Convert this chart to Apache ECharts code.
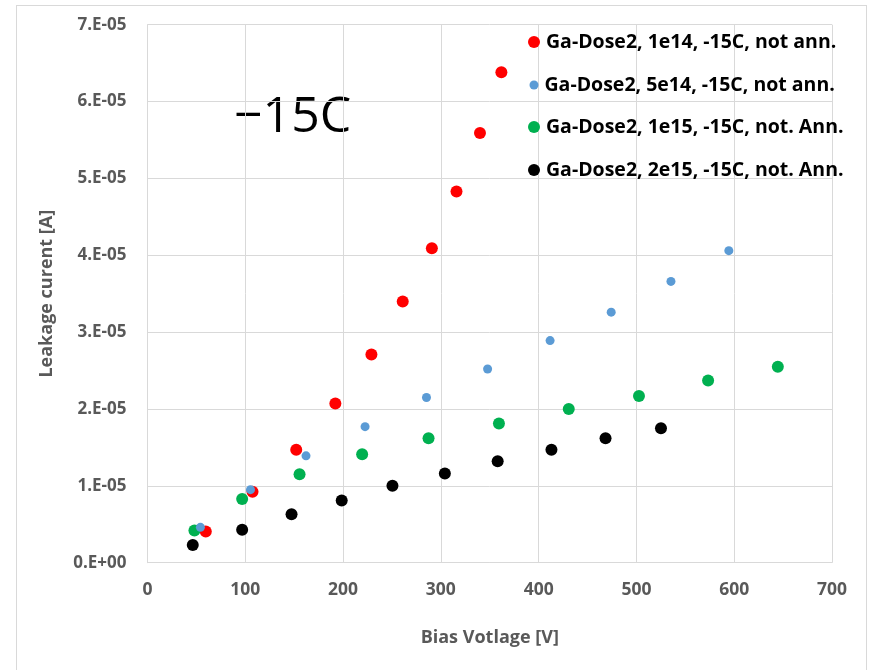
<!DOCTYPE html>
<html>
<head>
<meta charset="utf-8">
<script src="https://cdn.jsdelivr.net/npm/echarts@6/dist/echarts.min.js"></script>
<style>
html,body{margin:0;padding:0;background:#fff;}
#frame{position:absolute;left:16px;top:5px;width:851px;height:700px;border:1px solid #d9d9d9;box-sizing:border-box;}
#chart{position:absolute;left:0;top:0;width:869px;height:670px;}
</style>
</head>
<body>
<div id="frame"></div>
<div id="chart"></div>
<script>
// ---- data ----
const seriesNames = [
  'Ga-Dose2, 1e14, -15C, not ann.',
  'Ga-Dose2, 5e14, -15C, not ann.',
  'Ga-Dose2, 1e15, -15C, not. Ann.',
  'Ga-Dose2, 2e15, -15C, not. Ann.'
];
const redX = [59.6, 107.4, 152.1, 192.1, 229.0, 261.0, 290.8, 316.0, 340.0, 361.9];
const redY = [4.07e-6, 9.22e-6, 1.47e-5, 2.07e-5, 2.71e-5, 3.40e-5, 4.09e-5, 4.83e-5, 5.59e-5, 6.38e-5];
const blueX = [54.1, 105.3, 162.1, 222.5, 285.3, 347.8, 411.7, 474.2, 535.3, 594.5];
const blueY = [4.6e-6, 9.5e-6, 1.39e-5, 1.77e-5, 2.15e-5, 2.52e-5, 2.89e-5, 3.26e-5, 3.66e-5, 4.06e-5];
const greenX = [48.0, 96.8, 155.5, 219.5, 287.4, 359.4, 430.8, 502.6, 573.3, 644.6];
const greenY = [4.2e-6, 8.3e-6, 1.15e-5, 1.41e-5, 1.62e-5, 1.81e-5, 2.00e-5, 2.17e-5, 2.37e-5, 2.55e-5];
const blackX = [46.3, 96.8, 147.3, 198.6, 250.5, 304.1, 358.1, 413.1, 468.4, 525.1];
const blackY = [2.3e-6, 4.3e-6, 6.3e-6, 8.1e-6, 1.00e-5, 1.16e-5, 1.32e-5, 1.47e-5, 1.62e-5, 1.75e-5];
const xTicks = [0, 100, 200, 300, 400, 500, 600, 700];
const yTicks = [0, 1e-5, 2e-5, 3e-5, 4e-5, 5e-5, 6e-5, 7e-5];
const annotation = '\u221215C';
const xTitle = 'Bias Votlage [V]';
const yTitle = 'Leakage curent [A]';

// ---- styles ----
const colors = ['#ff0000', '#5b9bd5', '#00b050', '#000000'];
const sizes = [12, 9, 12, 12];
const FONT = '"Open Sans", sans-serif';

function zip(xs, ys) { return xs.map((x, i) => [x, ys[i]]); }
const dataSets = [zip(redX, redY), zip(blueX, blueY), zip(greenX, greenY), zip(blackX, blackY)];

function fmtY(v) {
  if (v === 0) return '0.E+00';
  const e = Math.floor(Math.log10(Math.abs(v)) + 1e-9);
  const m = Math.round(v / Math.pow(10, e));
  const sign = e < 0 ? '-' : '+';
  const ae = Math.abs(e);
  return m + '.E' + sign + (ae < 10 ? '0' : '') + ae;
}

const chart = echarts.init(document.getElementById('chart'), null, {renderer: 'canvas'});
const legendTops = [32, 75, 117, 160];
const option = {
  backgroundColor: 'transparent',
  animation: false,
  grid: {left: 147.5, right: 37, top: 24.7, bottom: 107.3, containLabel: false},
  xAxis: {
    type: 'value', min: 0, max: 700, interval: 100,
    name: xTitle, nameLocation: 'middle', nameGap: 66,
    nameTextStyle: {fontFamily: FONT, fontWeight: 'bold', fontSize: 18, color: '#595959'},
    axisLine: {show: true, lineStyle: {color: '#d9d9d9', width: 1}},
    axisTick: {show: false},
    axisLabel: {fontFamily: FONT, fontWeight: 'bold', fontSize: 17.5, color: '#595959', margin: 18},
    splitLine: {show: true, lineStyle: {color: '#d9d9d9', width: 1}}
  },
  yAxis: {
    type: 'value', min: 0, max: 7e-5, interval: 1e-5,
    name: yTitle, nameLocation: 'middle', nameGap: 92, nameRotate: 90,
    nameTextStyle: {fontFamily: FONT, fontWeight: 'bold', fontSize: 18, color: '#595959'},
    axisLine: {show: true, lineStyle: {color: '#d9d9d9', width: 1}},
    axisTick: {show: false},
    axisLabel: {fontFamily: FONT, fontWeight: 'bold', fontSize: 17, color: '#595959', margin: 21, formatter: fmtY},
    splitLine: {show: true, lineStyle: {color: '#d9d9d9', width: 1}}
  },
  legend: seriesNames.map((n, i) => ({
    data: [n], orient: 'vertical', left: 527, top: legendTops[i],
    itemWidth: sizes[i], itemHeight: sizes[i], icon: 'circle', itemGap: 0,
    padding: [0, 0, 0, 13 - sizes[i] / 2 - 6],
    textStyle: {fontFamily: FONT, fontWeight: 'bold', fontSize: 19.5, color: '#000', padding: [0, 0, 0, 1]},
    selectedMode: false
  })),
  series: seriesNames.map((n, i) => ({
    name: n, type: 'scatter', data: dataSets[i], symbol: 'circle', symbolSize: sizes[i],
    itemStyle: {color: colors[i], opacity: 1}, z: 2 + (i === 1 ? 1 : 0)
  })),
  graphic: [{
    type: 'text', left: 234, top: 93,
    style: {text: annotation, font: '400 50px ' + FONT, fill: '#000'}
  }]
};
chart.setOption(option);
</script>
</body>
</html>
